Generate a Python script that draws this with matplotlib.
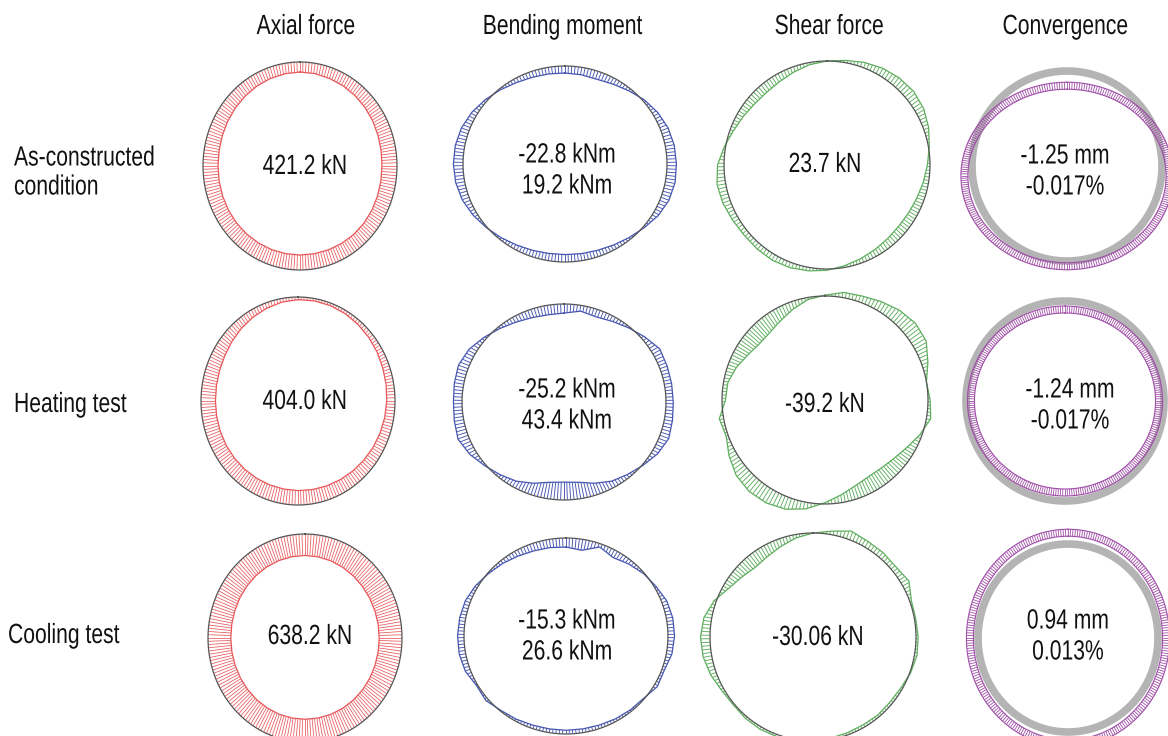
import numpy as np
import matplotlib.pyplot as plt
from matplotlib.collections import LineCollection
from matplotlib.path import Path
from matplotlib.patches import PathPatch
from matplotlib.patheffects import AbstractPathEffect
from matplotlib.transforms import Affine2D

plt.rcParams['font.family'] = ['Liberation Sans', 'DejaVu Sans']

columns = ["Axial force", "Bending moment", "Shear force", "Convergence"]
rows = ["As-constructed\ncondition", "Heating test", "Cooling test"]

# sampling positions round the lining, degrees clockwise from the crown
theta = np.arange(0, 360, 10)

# axial force (kN), one list per test stage
axial_kN = [
    [261, 268, 285, 300, 318, 340, 365, 390, 410, 421.2, 418, 408, 395, 385, 380, 382, 386, 390,
     391, 392, 393, 394, 395, 398, 405, 412, 418, 421, 415, 400, 380, 355, 330, 305, 285, 270],
    [69, 62, 65, 80, 105, 130, 160, 190, 212, 231, 250, 270, 290, 312, 330, 345, 358, 368,
     376, 382, 386, 389, 391, 393, 396, 400, 403, 404.0, 398, 380, 350, 300, 245, 190, 140, 95],
    [560, 565, 575, 590, 605, 618, 628, 634, 637, 638.2, 636, 630, 622, 612, 604, 598, 595, 594,
     594, 595, 598, 604, 612, 620, 628, 634, 637, 638, 634, 625, 612, 598, 585, 574, 566, 561],
]

# bending moment (kNm)
moment_kNm = [
    [17, 18, 19.2, 14, 6, -4, -12, -18, -21, -22, -22.8, -20, -13, -3, 5, 11, 15, 17,
     18, 17.5, 15, 11, 5, -2, -10, -17, -21, -22.5, -22, -19, -13, -5, 3, 10, 14, 16],
    [22, 14, 18, 12, 3, -8, -20, -18, -17, -17, -19, -22, -14, -2, 8, 16, 28, 40,
     43.4, 40, 28, 16, 7, -3, -16, -25.2, -22, -20, -22, -24, -18, -6, 5, 14, 20, 23],
    [22, 26.6, 8, 18, 10, 2, -4, -12, -15, -15.3, -13, -6, -8, 2, 4, 6, 8, 9,
     9, 9, 8, 5, 2, -6, -3, -12, -15, -15, -14, -12, -6, 2, 8, 14, 18, 20],
]

# shear force (kN)
shear_kN = [
    [0, 5, 12, 18, 22, 23.7, 20, 12, 2, -6, -12, -17, -20, -21, -19, -15, -10, -4,
     3, 8, 12, 14, 13, 12, 14, 18, 20, 15, 3, -8, -15, -20, -21, -18, -12, -5],
    [2, 12, 15, 22, 30, 35, 32, 15, 0, 5, 10, -5, -20, -30, -35, -36, -30, -18,
     -3, 15, 28, 34, 35, 30, 18, 5, 10, -8, -10, -20, -32, -39.2, -38, -30, -18, -5],
    [0, 8, 20, 15, 14, 12, 18, 4, 3, 5, 6, 2, -4, -6, -5, -6, -5, -3,
     0, 3, 5, 6, 5, 3, 6, 14, 20, 22, 18, 5, -14, -24, -30.06, -26, -18, -8],
]

# deformed lining relative to the original ring (exaggerated)
conv_span_h = [1.08, 0.95, 1.09]
conv_span_v = [0.95, 0.915, 1.12]
conv_drop = [0.105, 0.0, 0.0]

axial_labels = [["421.2 kN"], ["404.0 kN"], ["638.2 kN"]]
moment_labels = [["-22.8 kNm", "19.2 kNm"], ["-25.2 kNm", "43.4 kNm"], ["-15.3 kNm", "26.6 kNm"]]
shear_labels = [["23.7 kN"], ["-39.2 kN"], ["-30.06 kN"]]
conv_labels = [["-1.25 mm", "-0.017%"], ["-1.24 mm", "-0.017%"], ["0.94 mm", "0.013%"]]

# ring centres / radii in pixels, per row and column
centres = [
    [(300, 166), (565, 164), (827, 165), (1067, 166)],
    [(298, 401), (564, 402), (825, 400), (1065, 401)],
    [(305, 638), (566, 636), (813, 637), (1068, 638)],
]
radii = [(97, 104), (102, 98), (103, 104), (95, 96)]
conv_radii = [(95, 95), (99, 100), (90, 94)]
text_pos = [
    [(305, 167), (567, 171), (825, 165), (1065, 172)],
    [(305, 402), (567, 406), (825, 405), (1070, 406)],
    [(310, 637), (567, 637), (818, 638), (1068, 637)],
]

RING = '#555555'
INK = '#111111'


class Narrow(AbstractPathEffect):
    """Squeeze glyphs horizontally (narrow sans look)."""

    def __init__(self, sx=0.76, centred=True):
        super().__init__()
        self.sx = sx
        self.centred = centred

    def draw_path(self, renderer, gc, tpath, affine, rgbFace=None):
        shift = 0.0
        if self.centred:
            ext = tpath.get_extents()
            shift = (1 - self.sx) * (ext.x0 + ext.x1) / 2
        squeeze = Affine2D().scale(self.sx, 1).translate(shift, 0)
        renderer.draw_path(gc, tpath, squeeze + affine, rgbFace)


def ellipse_pts(cx, cy, rx, ry, ang, r=1.0):
    return cx + rx * r * np.sin(ang), cy - ry * r * np.cos(ang)


def draw_diagram(ax, cx, cy, rx, ry, values, scale, color, nhatch=190, hlw=0.65):
    phi = np.deg2rad(theta)
    r = 1 + np.asarray(values, dtype=float) * scale
    ox, oy = ellipse_pts(cx, cy, rx, ry, phi, r)
    bx, by = ellipse_pts(cx, cy, rx, ry, phi)

    # band between the ring and the diagram line, used to clip the hatching
    verts, codes = [], []
    n = len(phi)
    for i in range(n):
        j = (i + 1) % n
        verts += [(bx[i], by[i]), (bx[j], by[j]), (ox[j], oy[j]), (ox[i], oy[i]), (bx[i], by[i])]
        codes += [Path.MOVETO, Path.LINETO, Path.LINETO, Path.LINETO, Path.CLOSEPOLY]
    band = PathPatch(Path(verts, codes), transform=ax.transData, fc='none', ec='none')
    ax.add_patch(band)

    a = np.linspace(0, 2 * np.pi, nhatch, endpoint=False)
    x0, y0 = ellipse_pts(cx, cy, rx, ry, a, 0.6)
    x1, y1 = ellipse_pts(cx, cy, rx, ry, a, 1.5)
    hatch = LineCollection(np.stack([np.c_[x0, y0], np.c_[x1, y1]], axis=1),
                           colors=color, linewidths=hlw)
    ax.add_collection(hatch)
    hatch.set_clip_path(band)

    ax.plot(np.append(ox, ox[0]), np.append(oy, oy[0]), color=color, lw=0.9)
    t = np.linspace(0, 2 * np.pi, 400)
    ax.plot(*ellipse_pts(cx, cy, rx, ry, t), color=RING, lw=0.9)


def draw_convergence(ax, cx, cy, rx, ry, sh, sv, drop, color='#a04fa8'):
    t = np.linspace(0, 2 * np.pi, 400)
    ax.plot(*ellipse_pts(cx, cy, rx, ry, t), color='#b4b4b4', lw=5.5, solid_capstyle='butt')
    dcx, dcy = cx, cy + drop * ry
    drx, dry = rx * sh, ry * sv
    w = 3.5
    ax.plot(*ellipse_pts(dcx, dcy, drx + w, dry + w, t), color=color, lw=0.8)
    ax.plot(*ellipse_pts(dcx, dcy, drx - w, dry - w, t), color=color, lw=0.8)
    a = np.linspace(0, 2 * np.pi, 260, endpoint=False)
    x0, y0 = ellipse_pts(dcx, dcy, drx - w, dry - w, a)
    x1, y1 = ellipse_pts(dcx, dcy, drx + w, dry + w, a)
    ax.add_collection(LineCollection(np.stack([np.c_[x0, y0], np.c_[x1, y1]], axis=1),
                                     colors=color, linewidths=0.6))


fig = plt.figure(figsize=(11.68, 7.36), dpi=100)
ax = fig.add_axes([0, 0, 1, 1])
ax.set_xlim(0, 1168)
ax.set_ylim(736, 0)
ax.axis('off')

# scale factors: fraction of ring radius per unit of force
axial_scale = -0.155 / 421.2
moment_scale = -0.0042
shear_scale = 0.0042

FS = 20
narrow_c = [Narrow(0.76, True)]
narrow_l = [Narrow(0.76, False)]

for i in range(3):
    (c1, c2, c3, c4) = centres[i]
    draw_diagram(ax, *c1, *radii[0], axial_kN[i], axial_scale, '#e8575a', nhatch=200, hlw=0.55)
    draw_diagram(ax, *c2, *radii[1], moment_kNm[i], moment_scale, '#4656b0')
    draw_diagram(ax, *c3, *radii[2], shear_kN[i], shear_scale, '#5fae5f')
    draw_convergence(ax, *c4, *conv_radii[i], conv_span_h[i], conv_span_v[i], conv_drop[i])

    for j, labels in enumerate([axial_labels[i], moment_labels[i], shear_labels[i], conv_labels[i]]):
        tx, ty = text_pos[i][j]
        off = (np.arange(len(labels)) - (len(labels) - 1) / 2) * 31
        for lab, dy in zip(labels, off):
            ax.text(tx, ty + dy, lab, ha='center', va='center', fontsize=FS, color=INK,
                    path_effects=narrow_c)

header_x = [306, 562, 829, 1065]
for name, x in zip(columns, header_x):
    ax.text(x, 27, name, ha='center', va='center', fontsize=FS, color=INK, path_effects=narrow_c)

row_pos = [(14, 173), (14, 405), (8, 636)]
for name, (x, y) in zip(rows, row_pos):
    ax.text(x, y, name, ha='left', va='center', fontsize=FS, color=INK, linespacing=1.15,
            path_effects=narrow_l)

fig.savefig('out.png', dpi=100)
